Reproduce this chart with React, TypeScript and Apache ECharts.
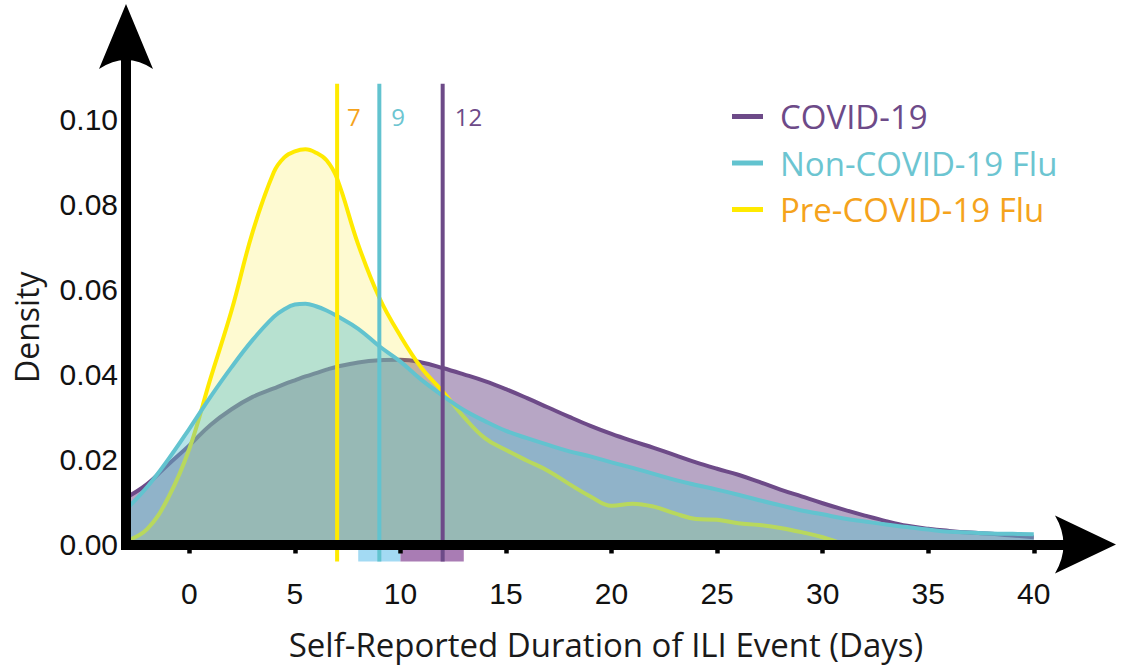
import React, { useEffect, useRef } from "react";
import * as echarts from "echarts";

// ---------- data ----------
const days = [
  -3, -2, -1, 0, 1, 2, 3, 4, 4.5, 5, 5.5, 6, 6.5, 7, 8, 9, 10, 11, 12, 13, 14,
  15, 16, 17, 18, 19, 20, 21, 22, 23, 24, 25, 26, 27, 28, 29, 30, 31, 32, 33,
  34, 35, 36, 37, 38, 39, 40,
];
const covid = [
  0.011, 0.0142, 0.0188, 0.0233, 0.0281, 0.0318, 0.0347, 0.0367, 0.0377,
  0.0386, 0.0395, 0.0403, 0.0411, 0.0418, 0.0428, 0.0433, 0.0434, 0.0428,
  0.0415, 0.04, 0.0384, 0.0365, 0.0344, 0.0322, 0.03, 0.0279, 0.026, 0.0243,
  0.0227, 0.021, 0.0193, 0.0178, 0.0164, 0.0147, 0.0129, 0.0113, 0.0097,
  0.0082, 0.0068, 0.0055, 0.0044, 0.0037, 0.0032, 0.0028, 0.0025, 0.0021,
  0.0017,
];
const nonCovidFlu = [
  0.0082, 0.0135, 0.02, 0.0272, 0.0347, 0.0417, 0.0481, 0.0535, 0.0553,
  0.0564, 0.0566, 0.056, 0.055, 0.0537, 0.0507, 0.0466, 0.043, 0.0387, 0.035,
  0.0316, 0.029, 0.0267, 0.025, 0.0234, 0.0219, 0.0207, 0.0193, 0.018, 0.0166,
  0.0152, 0.014, 0.0129, 0.0117, 0.0104, 0.0092, 0.008, 0.0071, 0.0061, 0.0054,
  0.0047, 0.0041, 0.0035, 0.003, 0.0028, 0.0026, 0.0025, 0.0024,
];
const preCovidFlu = [
  0.0008, 0.0036, 0.011, 0.0225, 0.039, 0.055, 0.0735, 0.0875, 0.091, 0.0924,
  0.0929, 0.0921, 0.0903, 0.086, 0.0705, 0.058, 0.049, 0.0415, 0.036, 0.03,
  0.025, 0.0222, 0.0197, 0.0173, 0.0142, 0.0113, 0.0091, 0.0096, 0.0089,
  0.0073, 0.006, 0.0058, 0.005, 0.0046, 0.0039, 0.0029, 0.0017, 0, null, null,
  null, null, null, null, null, null, null,
];
const medians = [7, 9, 12];
const medianLabels = ["7", "9", "12"];
const bandStarts = [8, 10];
const bandEnds = [10, 13];
const xTicks = [0, 5, 10, 15, 20, 25, 30, 35, 40];
const yTicks = [0, 0.02, 0.04, 0.06, 0.08, 0.1];

// ---------- styles ----------
const PURPLE = "#6D4A88";
const CYAN = "#62C3CF";
const YELLOW = "#FFEA00";
const ORANGE = "#F5A31C";
const medianColors = [YELLOW, CYAN, PURPLE];
const medianTextColors = [ORANGE, "#6CC5D1", PURPLE];
const bandColors = ["#A3DAF3", "#A97CB4"];
const MEDIAN_TOP = 0.1083;
const MEDIAN_LABEL_Y = 0.1007;
const BELOW = -0.004;

const W = 1121;
const H = 670;
const GL = 126;
const GR = 45;
const GT = 34;
const GB = 125.5;

echarts.graphic.registerShape(
  "arrowUp",
  echarts.graphic.extendPath("M0 0 L27 65 Q0 47 -27 65 Z", {})
);
echarts.graphic.registerShape(
  "arrowRight",
  echarts.graphic.extendPath("M0 0 L-61 -29 Q-44 0 -61 29 Z", {})
);

const pairs = (vals: (number | null)[]) =>
  days.map((d, i) => [d, vals[i] === null ? null : vals[i]]);

export default function App() {
  const ref = useRef<HTMLDivElement>(null);
  useEffect(() => {
    if (!ref.current) return;
    const chart = echarts.init(ref.current, undefined, { renderer: "svg" });
    const tickFont = "Liberation Sans";
    const textFont = "Open Sans";
    const option: any = {
      animation: false,
      grid: { left: GL, right: GR, top: GT, bottom: GB },
      legend: {
        orient: "vertical",
        left: 732,
        top: 100,
        padding: 0,
        itemWidth: 31,
        itemHeight: 5,
        itemGap: 13.5,
        icon: "rect",
        textStyle: {
          fontFamily: textFont,
          fontSize: 33,
          lineHeight: 33,
          padding: [0, 0, 0, 12],
        },
        data: [
          { name: "COVID-19", textStyle: { color: PURPLE } },
          { name: "Non-COVID-19 Flu", textStyle: { color: "#6CC5D1" } },
          { name: "Pre-COVID-19 Flu", textStyle: { color: ORANGE } },
        ],
      },
      xAxis: [
        {
          type: "value",
          min: -3,
          max: 42,
          z: 10,
          axisLine: {
            show: true,
            onZero: false,
            lineStyle: { color: "#000", width: 10, cap: "square" },
          },
          axisTick: { show: false },
          axisLabel: { show: false },
          splitLine: { show: false },
        },
        {
          type: "value",
          min: -3,
          max: 42,
          position: "bottom",
          offset: 18.5,
          z: 10,
          axisLine: { show: false },
          axisTick: {
            show: true,
            length: 9,
            customValues: xTicks,
            lineStyle: { color: "#000", width: 4.5 },
          },
          axisLabel: {
            customValues: xTicks,
            fontFamily: tickFont,
            fontSize: 30,
            color: "#111",
            margin: 15,
          },
          splitLine: { show: false },
          name: "Self-Reported Duration of ILI Event (Days)",
          nameLocation: "middle",
          nameGap: 65,
          nameTextStyle: {
            fontFamily: textFont,
            fontSize: 33,
            color: "#1a1a1a",
            padding: [0, 0, 0, 10],
          },
        },
      ],
      yAxis: {
        type: "value",
        min: 0,
        max: 0.12,
        z: 10,
        axisLine: {
          show: true,
          onZero: false,
          lineStyle: { color: "#000", width: 10, cap: "square" },
        },
        axisTick: { show: false },
        axisLabel: {
          customValues: yTicks,
          formatter: (v: number) => v.toFixed(2),
          fontFamily: tickFont,
          fontSize: 30,
          color: "#111",
          margin: 8,
        },
        splitLine: { show: false },
        name: "Density",
        nameLocation: "middle",
        nameRotate: 90,
        nameGap: 84,
        nameTextStyle: {
          fontFamily: textFont,
          fontSize: 32,
          color: "#1a1a1a",
          padding: [0, 76, 0, 0],
        },
      },
      series: [
        {
          name: "COVID-19",
          type: "line",
          data: pairs(covid),
          smooth: 0.4,
          symbol: "none",
          color: PURPLE,
          lineStyle: { color: PURPLE, width: 4 },
          areaStyle: { color: PURPLE, opacity: 0.49 },
          z: 2,
        },
        {
          name: "Pre-COVID-19 Flu",
          type: "line",
          data: pairs(preCovidFlu),
          smooth: 0.4,
          symbol: "none",
          color: YELLOW,
          lineStyle: { color: YELLOW, width: 4 },
          areaStyle: { color: "rgba(250,228,0,0.26)" },
          z: 3,
        },
        {
          name: "Non-COVID-19 Flu",
          type: "line",
          data: pairs(nonCovidFlu),
          smooth: 0.4,
          symbol: "none",
          color: CYAN,
          lineStyle: { color: CYAN, width: 4 },
          areaStyle: { color: CYAN, opacity: 0.45 },
          z: 4,
        },
        {
          type: "custom",
          name: "bands",
          clip: false,
          z: 5,
          data: bandStarts.map((s, i) => [s, bandEnds[i]]),
          encode: { x: [0, 1] },
          renderItem: (params: any, api: any) => {
            const p1 = api.coord([api.value(0), 0]);
            const p2 = api.coord([api.value(1), BELOW]);
            return {
              type: "rect",
              shape: { x: p1[0], y: p1[1], width: p2[0] - p1[0], height: p2[1] - p1[1] },
              style: { fill: bandColors[params.dataIndex] },
            };
          },
        },
        {
          type: "custom",
          name: "medians",
          clip: false,
          z: 6,
          data: medians.map((m) => [m, MEDIAN_TOP]),
          encode: { x: 0, y: 1 },
          renderItem: (params: any, api: any) => {
            const i = params.dataIndex;
            const m = api.value(0);
            const top = api.coord([m, api.value(1)]);
            const bot = api.coord([m, BELOW]);
            const lab = api.coord([m, MEDIAN_LABEL_Y]);
            return {
              type: "group",
              children: [
                {
                  type: "line",
                  shape: { x1: top[0], y1: top[1], x2: bot[0], y2: bot[1] },
                  style: { stroke: medianColors[i], lineWidth: 4 },
                },
                {
                  type: "text",
                  x: lab[0] + (i === 0 ? 10 : 12),
                  y: lab[1],
                  style: {
                    text: medianLabels[i],
                    fill: medianTextColors[i],
                    font: `24px '${textFont}'`,
                    verticalAlign: "middle",
                    align: "left",
                  },
                },
              ],
            };
          },
        },
      ],
      graphic: [
        { type: "arrowUp", x: GL, y: 4, z: 100, style: { fill: "#000" } },
        { type: "arrowRight", x: 1116, y: H - GB, z: 100, style: { fill: "#000" } },
      ],
    };
    chart.setOption(option);
    return () => chart.dispose();
  }, []);
  return (
    <div
      ref={ref}
      style={{ width: W, height: H, position: "absolute", left: 0, top: 0, background: "#fff" }}
    />
  );
}
